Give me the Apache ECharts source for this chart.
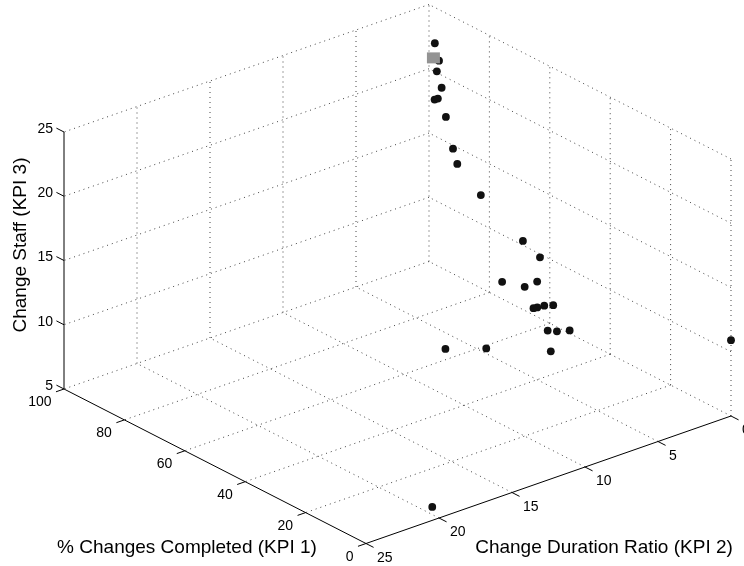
<!DOCTYPE html>
<html><head><meta charset="utf-8">
<script src="https://cdn.jsdelivr.net/npm/echarts@6/dist/echarts.min.js"></script>
<style>html,body{margin:0;padding:0;background:#fff}#c{width:744px;height:566px}</style>
</head><body><div id="c"></div>
<script>
// ---- data ----
const kpi1 = [94.2, 90.4, 94.5, 90.5, 93.8, 90.3, 88.6, 84.8, 85.8, 75.1, 60.2, 53.1, 69.5, 60.1, 55.0, 59.6, 56.9, 51.2, 49.2, 49.1, 44.1, 45.2, 47.1, 61.2, 55.9, 3.2, 0.0];
const kpi2 = [0.8, 1.3, 0.6, 1.1, 0.9, 1.4, 1.2, 1.5, 1.0, 1.6, 1.8, 2.1, 1.3, 1.7, 1.9, 1.2, 1.5, 2.2, 2.0, 2.4, 2.8, 1.7, 2.6, 6.9, 5.2, 19.8, 0.0];
const kpi3 = [23.0, 22.3, 20.7, 20.1, 18.7, 19.4, 18.1, 16.2, 14.7, 13.8, 12.1, 11.8, 7.6, 8.5, 9.6, 6.7, 7.2, 8.3, 8.5, 6.7, 7.4, 6.9, 5.4, 5.6, 5.6, 5.4, 10.9];
const refKpi1 = [93.7];
const refKpi2 = [1.0];
const refKpi3 = [22.0];
const kpi1Ticks = [0, 20, 40, 60, 80, 100];
const kpi2Ticks = [0, 5, 10, 15, 20, 25];
const kpi3Ticks = [5, 10, 15, 20, 25];
const X_RANGE = [0, 100], Y_RANGE = [0, 25], Z_RANGE = [5, 25];
const titleX = '% Changes Completed (KPI 1)';
const titleY = 'Change Duration Ratio (KPI 2)';
const titleZ = 'Change Staff (KPI 3)';

// ---- layout of the projected box ----
const FRONT = [366, 543.5], LEFT = [64, 389], RIGHT = [731, 416], HEIGHT = 257;
const FONT = '"Liberation Sans", Arial, Helvetica, sans-serif';

function nrm(v, r) { return (v - r[0]) / (r[1] - r[0]); }
function projUWH(u, w, h) {
  return [FRONT[0] + u * (LEFT[0] - FRONT[0]) + w * (RIGHT[0] - FRONT[0]),
          FRONT[1] + u * (LEFT[1] - FRONT[1]) + w * (RIGHT[1] - FRONT[1]) - h * HEIGHT];
}
function project(x, y, z) {
  return projUWH(nrm(x, X_RANGE), 1 - nrm(y, Y_RANGE), nrm(z, Z_RANGE));
}

const gridStyle = { stroke: '#444', lineWidth: 1, lineDash: [1, 4] };
const axisStyle = { stroke: '#000', lineWidth: 1 };
function seg(a, b, style) {
  return { type: 'line', shape: { x1: a[0], y1: a[1], x2: b[0], y2: b[1] }, style: style, silent: true };
}
function txt(x, y, s, align, size, extra) {
  return Object.assign({ type: 'text', x: x, y: y, silent: true,
    style: { text: s, fill: '#000', font: size + 'px ' + FONT, align: align, verticalAlign: 'middle' } }, extra || {});
}

function buildFrame() {
  const ch = [];
  // floor (z = min)
  kpi1Ticks.forEach(t => { if (t === X_RANGE[0]) return;
    ch.push(seg(project(t, Y_RANGE[0], Z_RANGE[0]), project(t, Y_RANGE[1], Z_RANGE[0]), gridStyle)); });
  kpi2Ticks.forEach(t => { if (t === Y_RANGE[1]) return;
    ch.push(seg(project(X_RANGE[0], t, Z_RANGE[0]), project(X_RANGE[1], t, Z_RANGE[0]), gridStyle)); });
  // wall x = max
  kpi2Ticks.forEach(t => { if (t === Y_RANGE[1]) return;
    ch.push(seg(project(X_RANGE[1], t, Z_RANGE[0]), project(X_RANGE[1], t, Z_RANGE[1]), gridStyle)); });
  kpi3Ticks.forEach(t => { if (t === Z_RANGE[0]) return;
    ch.push(seg(project(X_RANGE[1], Y_RANGE[0], t), project(X_RANGE[1], Y_RANGE[1], t), gridStyle)); });
  // wall y = min
  kpi1Ticks.forEach(t => { if (t === X_RANGE[1]) return;
    ch.push(seg(project(t, Y_RANGE[0], Z_RANGE[0]), project(t, Y_RANGE[0], Z_RANGE[1]), gridStyle)); });
  kpi3Ticks.forEach(t => { if (t === Z_RANGE[0]) return;
    ch.push(seg(project(X_RANGE[0], Y_RANGE[0], t), project(X_RANGE[1], Y_RANGE[0], t), gridStyle)); });

  // axes
  ch.push(seg(project(X_RANGE[1], Y_RANGE[1], Z_RANGE[0]), project(X_RANGE[1], Y_RANGE[1], Z_RANGE[1]), axisStyle));
  ch.push(seg(project(X_RANGE[0], Y_RANGE[1], Z_RANGE[0]), project(X_RANGE[1], Y_RANGE[1], Z_RANGE[0]), axisStyle));
  ch.push(seg(project(X_RANGE[0], Y_RANGE[1], Z_RANGE[0]), project(X_RANGE[0], Y_RANGE[0], Z_RANGE[0]), axisStyle));

  const dU = [LEFT[0] - FRONT[0], LEFT[1] - FRONT[1]];
  const lu = Math.hypot(dU[0], dU[1]);
  const dW = [RIGHT[0] - FRONT[0], RIGHT[1] - FRONT[1]];
  const lw = Math.hypot(dW[0], dW[1]);
  const TL = 8.5;
  // z ticks and labels
  kpi3Ticks.forEach(t => {
    const p = project(X_RANGE[1], Y_RANGE[1], t);
    const q = [p[0] + dU[0] / lu * TL, p[1] + dU[1] / lu * TL];
    ch.push(seg(p, q, axisStyle));
    ch.push(txt(p[0] - 11, p[1] - 3, String(t), 'right', 14));
  });
  // kpi1 ticks and labels
  kpi1Ticks.forEach(t => {
    const p = project(t, Y_RANGE[1], Z_RANGE[0]);
    const q = [p[0] - dW[0] / lw * TL, p[1] - dW[1] / lw * TL];
    ch.push(seg(p, q, axisStyle));
    ch.push(txt(p[0] - 12.5, p[1] + 13.5, String(t), 'right', 14));
  });
  // kpi2 ticks and labels
  kpi2Ticks.forEach(t => {
    const p = project(X_RANGE[0], t, Z_RANGE[0]);
    const q = [p[0] - dU[0] / lu * TL, p[1] - dU[1] / lu * TL];
    ch.push(seg(p, q, axisStyle));
    ch.push(txt(p[0] + 11, p[1] + 14.5, String(t), 'left', 14));
  });
  // titles
  ch.push(txt(187, 548, titleX, 'center', 19));
  ch.push(txt(604, 548, titleY, 'center', 19));
  ch.push(txt(21, 245, titleZ, 'center', 19, { rotation: Math.PI / 2 }));
  return { type: 'group', children: ch };
}

const chart = echarts.init(document.getElementById('c'), null, { renderer: 'canvas' });
chart.setOption({
  animation: false,
  backgroundColor: '#fff',
  series: [
    { type: 'custom', coordinateSystem: 'none', silent: true, z: 1,
      data: [[0]], renderItem: () => buildFrame() },
    { type: 'custom', coordinateSystem: 'none', silent: true, z: 2,
      dimensions: ['kpi1', 'kpi2', 'kpi3'],
      data: kpi1.map((v, i) => [v, kpi2[i], kpi3[i]]),
      renderItem: (params, api) => {
        const p = project(api.value(0), api.value(1), api.value(2));
        return { type: 'circle', shape: { cx: p[0], cy: p[1], r: 3.9 }, style: { fill: '#111' } };
      } },
    { type: 'custom', coordinateSystem: 'none', silent: true, z: 3,
      dimensions: ['kpi1', 'kpi2', 'kpi3'],
      data: refKpi1.map((v, i) => [v, refKpi2[i], refKpi3[i]]),
      renderItem: (params, api) => {
        const p = project(api.value(0), api.value(1), api.value(2));
        return { type: 'rect', shape: { x: p[0] - 6.5, y: p[1] - 5.5, width: 13, height: 11 }, style: { fill: '#939393' } };
      } }
  ]
});
</script></body></html>
